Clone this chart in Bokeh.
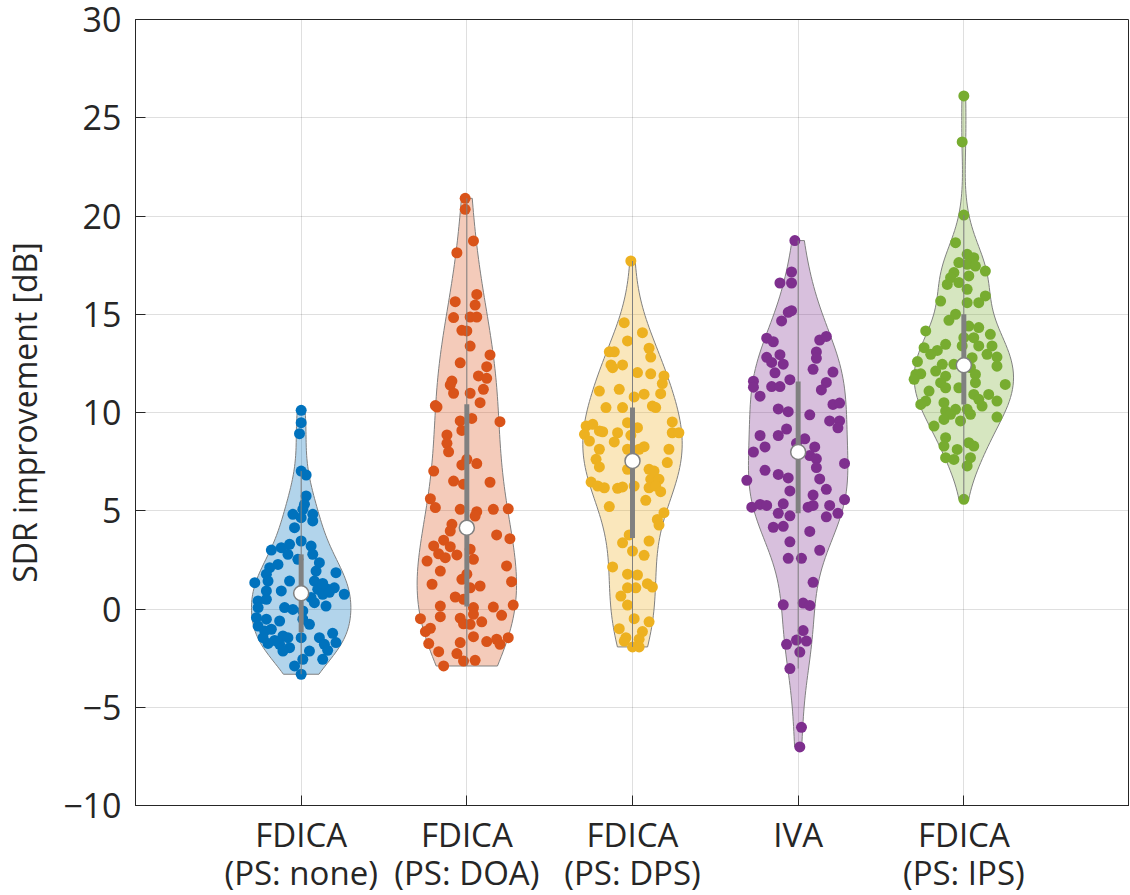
import numpy as np
from bokeh.plotting import figure
from bokeh.models import FixedTicker, Range1d
from bokeh.embed import file_html
from bokeh.resources import INLINE

# ---------------- data ----------------
categories = ["FDICA\n(PS: none)", "FDICA\n(PS: DOA)", "FDICA\n(PS: DPS)", "IVA", "FDICA\n(PS: IPS)"]
colors = ["#0072BD", "#D95319", "#EDB120", "#7E2F8E", "#77AC30"]
y_ticks = [-10, -5, 0, 5, 10, 15, 20, 25, 30]
y_tick_labels = ["\u221210", "\u22125", "0", "5", "10", "15", "20", "25", "30"]

sdr_none = [10.11, 9.48, 8.92, 7.02, 6.82, 5.75, 5.33, 5.07, 4.82, 4.82, 4.65, 4.48, 4.14, 3.46,
            3.00, 3.12, 3.29, 2.78, 3.20, 2.78, 2.36, 2.53, 2.10, 2.27, 1.77, 1.93, 1.85, 1.34,
            1.42, 1.42, 1.42, 0.92, 0.92, 1.00, 1.00, 1.08, 0.75, 0.41, 0.49, 0.58, 0.75, 0.32,
            0.15, 0.07, -0.02, -0.10, 0.07, -0.44, -0.52, -0.61, -0.52, -0.78, -0.87, -1.12,
            -1.03, -1.37, -1.46, -1.46, -1.46, -1.24, -1.46, -1.80, -1.97, -1.80, -1.71, -2.14,
            -2.14, -2.10, -2.56, -2.56, -2.90, -3.32, 0.85, 1.30, -1.60, -1.75]
jit_none = [0.00, 0.00, -0.01, 0.00, 0.03, 0.03, 0.02, 0.01, -0.05, 0.07, 0.00, 0.07, -0.04, 0.00,
            -0.18, -0.12, -0.07, -0.08, 0.06, 0.07, 0.11, -0.02, -0.19, -0.14, -0.21, 0.09, 0.21, -0.28,
            -0.20, -0.07, 0.08, -0.21, -0.12, 0.10, 0.16, 0.20, 0.26, -0.26, -0.21, 0.06, 0.13, 0.08,
            0.15, -0.10, -0.05, 0.01, -0.26, -0.27, -0.21, -0.13, 0.01, 0.05, -0.26, -0.22,
            -0.18, -0.11, -0.08, 0.00, 0.11, 0.19, -0.23, -0.13, -0.07, 0.14, 0.21, -0.11,
            0.05, 0.16, 0.01, 0.13, -0.04, 0.00, 0.17, 0.13, -0.16, -0.20]

sdr_doa = [20.90, 20.34, 18.73, 18.13, 16.01, 15.47, 15.64, 14.83, 14.86, 14.86, 14.18, 14.15, 13.38,
           12.93, 12.53, 12.33, 11.86, 11.74, 11.60, 11.40, 10.98, 11.18, 10.98, 10.50, 10.28, 10.35,
           9.70, 9.57, 9.53, 9.09, 8.86, 8.43, 8.00, 7.62, 7.40, 7.33, 7.02, 6.51, 6.35, 6.45, 5.61,
           5.16, 5.07, 4.95, 4.73, 5.07, 5.10, 4.31, 3.97, 3.77, 3.58, 3.50, 3.21, 3.17, 2.81, 2.61,
           2.75, 3.04, 2.53, 2.44, 2.19, 1.93, 1.77, 1.51, 1.39, 1.26, 1.08, 1.17, 0.61, 0.49, 0.15,
           0.07, 0.10, 0.20, -0.27, -0.39, -0.32, -0.49, -0.47, -0.65, -0.75, -0.78, -0.98, -1.15,
           -1.41, -1.71, -1.76, -1.66, -1.54, -1.46, -1.80, -2.17, -2.27, -2.65, -2.61, -2.90]
jit_doa = [-0.01, -0.01, 0.04, -0.06, 0.06, 0.05, -0.07, -0.08, 0.02, 0.06, -0.03, 0.00, 0.02,
           0.14, -0.04, 0.12, 0.07, 0.12, -0.09, -0.10, -0.08, 0.10, 0.02, 0.08, -0.18, -0.19,
           0.03, -0.04, 0.20, -0.03, -0.12, -0.12, -0.11, 0.00, 0.06, -0.03, -0.20, -0.08, -0.02, 0.14, -0.22,
           -0.19, -0.04, 0.06, 0.05, 0.16, 0.25, -0.09, -0.10, 0.18, 0.26, -0.14, -0.20, -0.10, -0.17, -0.13,
           -0.06, 0.02, 0.04, -0.24, 0.24, -0.16, 0.00, -0.03, 0.27, -0.21, 0.02, 0.08, -0.07, -0.02, -0.16,
           0.04, 0.16, 0.28, 0.04, -0.16, 0.21, -0.28, -0.04, 0.09, -0.02, 0.02, -0.22, -0.25,
           0.04, -0.04, -0.23, 0.12, 0.18, 0.25, 0.20, -0.17, -0.06, -0.02, 0.05, -0.14]

sdr_dps = [17.71, 14.57, 14.06, 13.64, 13.09, 13.09, 13.27, 12.82, 12.42, 12.42, 12.28, 12.03, 11.97,
           11.86, 11.47, 11.09, 11.18, 10.93, 10.79, 10.96, 10.25, 10.25, 10.33, 10.25, 9.52, 9.31,
           9.40, 9.06, 9.48, 9.23, 8.89, 9.02, 8.97, 8.97, 8.97, 8.55, 8.84, 8.50, 8.13, 8.13, 8.26,
           8.13, 8.13, 7.62, 7.23, 7.45, 7.11, 7.11, 7.02, 6.60, 6.60, 6.46, 6.26, 6.17, 6.14, 6.21,
           6.26, 6.17, 6.26, 5.97, 5.53, 5.21, 4.90, 4.56, 4.27, 3.77, 3.37, 3.46, 2.95, 2.73, 2.14,
           1.77, 1.73, 1.29, 1.12, 1.08, 1.08, 0.66, 0.20, -0.49, -0.65, -1.00, -1.15, -1.46, -1.54,
           -1.63, -1.93, -1.93]
jit_dps = [-0.01, -0.05, 0.06, -0.03, -0.14, -0.11, 0.10, 0.11, -0.13, -0.06, -0.12, 0.03, 0.11,
           0.19, 0.18, -0.20, -0.08, 0.07, 0.01, 0.17, -0.16, -0.06, 0.12, 0.14, 0.24, -0.28,
           -0.24, -0.20, -0.03, 0.03, -0.29, -0.18, -0.09, 0.24, 0.28, -0.26, -0.01, -0.11, -0.20, -0.03, 0.07,
           0.04, 0.22, -0.22, -0.20, 0.21, -0.03, 0.10, 0.13, 0.11, 0.16, -0.25, -0.21, -0.17, -0.09, -0.06,
           0.01, 0.10, 0.14, 0.17, 0.08, -0.14, 0.19, 0.15, 0.16, -0.02, -0.06, 0.10, 0.00, 0.07, -0.12,
           -0.03, 0.03, 0.09, 0.12, -0.03, 0.02, -0.07, -0.03, 0.01, 0.10, -0.08, 0.06, -0.04, 0.04,
           -0.05, 0.00, 0.04]

sdr_iva = [18.75, 17.15, 16.59, 16.59, 15.10, 15.18, 14.66, 13.78, 13.60, 13.69, 13.87, 13.08, 12.76,
           12.81, 12.94, 12.55, 12.46, 12.02, 12.20, 12.06, 11.59, 11.29, 10.83, 11.32, 11.32, 11.67,
           11.53, 11.15, 10.41, 10.48, 10.18, 10.04, 9.88, 9.57, 9.57, 9.22, 8.83, 8.83, 9.16, 8.25,
           8.66, 7.99, 8.43, 8.25, 7.81, 7.64, 7.20, 7.41, 7.06, 6.85, 6.67, 6.62, 6.55, 6.09, 6.01,
           5.80, 5.57, 5.18, 5.32, 5.27, 5.35, 5.18, 5.27, 5.27, 4.87, 4.87, 4.74, 4.69, 4.16, 4.21,
           3.95, 3.42, 2.99, 2.58, 2.58, 1.36, 0.21, 0.30, 0.18, -1.10, -1.58, -1.63, -1.80, -2.19,
           -3.03, -6.02, -7.02]
jit_iva = [-0.02, -0.04, -0.11, -0.04, -0.06, -0.04, -0.10, -0.19, -0.15, 0.13, 0.17, 0.11, 0.11,
           -0.19, -0.11, -0.16, -0.09, -0.14, 0.09, 0.21, -0.27, -0.27, -0.23, -0.16, -0.11, -0.05,
           0.17, 0.14, 0.21, 0.25, -0.12, -0.06, 0.07, 0.19, 0.25, 0.24, -0.23, -0.12, -0.07, -0.20,
           0.04, -0.27, -0.01, 0.10, 0.07, 0.11, 0.11, 0.28, -0.20, -0.12, -0.06, 0.13, -0.31, 0.17, -0.05,
           0.09, 0.28, -0.28, -0.23, -0.19, -0.09, 0.06, 0.09, 0.19, 0.24, -0.12, -0.05, 0.17, -0.15, -0.09,
           0.07, -0.05, 0.13, -0.06, 0.02, 0.09, -0.09, 0.03, 0.07, 0.03, -0.01, 0.05, -0.07, 0.01,
           -0.05, 0.02, 0.01]

sdr_ips = [26.11, 23.77, 20.05, 18.64, 18.05, 17.88, 17.63, 17.54, 17.45, 17.20, 17.12, 16.95, 16.86,
           16.52, 16.61, 16.27, 15.93, 15.67, 15.59, 15.59, 15.00, 14.69, 14.40, 14.32, 14.15, 13.98,
           13.81, 13.81, 13.47, 13.39, 13.39, 13.39, 13.30, 13.16, 12.96, 12.96, 12.82, 12.79, 12.59,
           12.45, 12.45, 12.36, 12.28, 12.11, 11.97, 11.94, 11.94, 11.85, 11.69, 11.52, 11.52, 11.43,
           11.26, 11.26, 11.09, 10.92, 10.92, 10.67, 10.58, 10.58, 10.50, 10.41, 10.33, 10.16, 10.16,
           10.07, 9.91, 9.91, 9.77, 9.65, 9.57, 9.31, 8.72, 8.46, 8.29, 8.29, 8.12, 7.70, 7.70, 7.61,
           7.28, 5.58]
jit_ips = [0.00, -0.01, 0.00, -0.05, 0.02, 0.06, -0.03, 0.02, 0.07, 0.13, -0.06, 0.03, -0.08,
           -0.10, -0.03, 0.02, 0.13, -0.14, 0.02, 0.09, -0.05, -0.09, 0.03, 0.09, -0.23, 0.16,
           0.06, 0.00, -0.11, -0.01, 0.09, 0.17, -0.24, -0.16, -0.20, 0.14, 0.20, 0.05, -0.28,
           -0.13, -0.06, 0.20, 0.04, -0.17, -0.26, 0.07, -0.29, -0.11, -0.30, -0.14, 0.07, 0.25,
           -0.03, -0.11, -0.21, 0.06, 0.15, 0.09, 0.20, -0.23, -0.12, -0.26, 0.11, -0.05, 0.02,
           -0.11, -0.08, 0.04, 0.20, -0.12, -0.02, -0.18, -0.11, 0.03, -0.12, 0.06, -0.04, -0.11, 0.04, -0.06,
           0.02, 0.00]

groups = [sdr_none, sdr_doa, sdr_dps, sdr_iva, sdr_ips]
jitters = [jit_none, jit_doa, jit_dps, jit_iva, jit_ips]

# ---------------- helpers ----------------
def kde(data, npts=100):
    x = np.asarray(data, dtype=float)
    n = len(x)
    sig = np.median(np.abs(x - np.median(x))) / 0.6745
    bw = sig * (4.0 / (3.0 * n)) ** 0.2
    v = np.linspace(x.min(), x.max(), npts)
    d = np.exp(-0.5 * ((v[:, None] - x[None, :]) / bw) ** 2).sum(axis=1) / (n * bw * np.sqrt(2 * np.pi))
    return v, d

TXT = "#262626"
FONT = "Open Sans"
GRAY = "#808080"

p = figure(frame_width=994, frame_height=786,
           x_range=Range1d(0, 6), y_range=Range1d(-10, 30),
           output_backend="svg", toolbar_location=None,
           min_border_left=128, min_border_right=0, min_border_top=19, min_border_bottom=86)
p.outline_line_color = TXT
p.outline_line_width = 1
p.background_fill_color = "white"
p.border_fill_color = "white"

for i, (data, jit, col) in enumerate(zip(groups, jitters, colors)):
    pos = i + 1
    v, d = kde(data)
    w = 0.3 / d.max()
    vals = np.concatenate([[v[0]], v, [v[-1]]])
    dens = np.concatenate([[0.0], d, [0.0]])
    xs = np.concatenate([pos + dens * w, pos - dens[::-1] * w])
    ys = np.concatenate([vals, vals[::-1]])
    p.patch(xs, ys, fill_color=col, fill_alpha=0.3, line_color=GRAY, line_width=1)

    arr = np.asarray(data)
    p.scatter(pos + np.asarray(jit), arr, size=11, fill_color=col, line_color=None)

    q1, med, q3 = np.quantile(arr, [0.25, 0.5, 0.75], method="hazen")
    iqr = q3 - q1
    lo = q1 - 1.5 * iqr
    lo = max(lo, arr[arr > lo].min())
    hi = q3 + 1.5 * iqr
    hi = min(hi, arr[arr < hi].max())
    p.segment(x0=[pos], y0=[lo], x1=[pos], y1=[hi], line_color=GRAY, line_width=1)
    p.vbar(x=[pos], width=0.03, bottom=[q1], top=[q3], fill_color=GRAY, line_color=None)
    p.scatter([pos], [med], size=15, fill_color="white", line_color=GRAY, line_width=1.5)

# ---------------- axes ----------------
p.xaxis.ticker = FixedTicker(ticks=[1, 2, 3, 4, 5])
p.xaxis.major_label_overrides = {k + 1: c for k, c in enumerate(categories)}
p.yaxis.ticker = FixedTicker(ticks=y_ticks)
p.yaxis.major_label_overrides = {t: s for t, s in zip(y_ticks, y_tick_labels)}

for ax in (p.xaxis[0], p.yaxis[0]):
    ax.axis_line_color = TXT
    ax.axis_line_width = 1
    ax.major_tick_line_color = TXT
    ax.major_tick_in = 10
    ax.major_tick_out = 0
    ax.minor_tick_line_color = None
    ax.major_label_text_font = FONT
    ax.major_label_text_color = TXT

p.yaxis.major_label_text_font_size = "34px"
p.xaxis.major_label_text_font_size = "33px"
p.xaxis.major_label_text_line_height = 0.85
p.yaxis.major_label_standoff = 14
p.xaxis.major_label_standoff = 6
p.yaxis.axis_label = "SDR improvement [dB]"
p.yaxis.axis_label_text_font = FONT
p.yaxis.axis_label_text_font_size = "32px"
p.yaxis.axis_label_text_font_style = "normal"
p.yaxis.axis_label_text_color = TXT
p.yaxis.axis_label_standoff = 14

p.xgrid.ticker = FixedTicker(ticks=[1, 2, 3, 4, 5])
p.ygrid.ticker = FixedTicker(ticks=y_ticks)
for g in (p.xgrid[0], p.ygrid[0]):
    g.grid_line_color = TXT
    g.grid_line_alpha = 0.15
    g.grid_line_width = 1

open("out.html", "w").write(file_html(p, INLINE))
